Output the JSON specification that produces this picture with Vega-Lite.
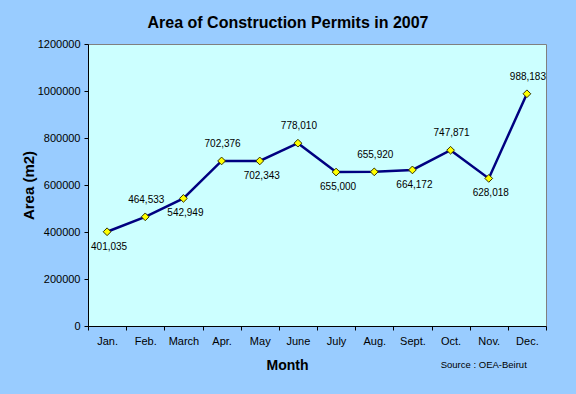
{
  "$schema": "https://vega.github.io/schema/vega-lite/v6.json",
  "width": 458,
  "height": 282,
  "autosize": {"type": "none"},
  "padding": {"left": 88, "top": 44, "right": 30, "bottom": 68},
  "background": "#99CCFF",
  "title": {
    "text": "Area of Construction Permits in 2007",
    "font": "Liberation Sans",
    "fontSize": 16,
    "fontWeight": "bold",
    "color": "#000000",
    "anchor": "middle",
    "dx": -29,
    "offset": 7
  },
  "config": {
    "view": {"fill": "#CCFFFF", "stroke": "#808080", "strokeWidth": 1},
    "font": "Liberation Sans"
  },
  "data": {
    "values": [
      {"month": "Jan.", "area": 401035},
      {"month": "Feb.", "area": 464533},
      {"month": "March", "area": 542949},
      {"month": "Apr.", "area": 702376},
      {"month": "May", "area": 702343},
      {"month": "June", "area": 778010},
      {"month": "July", "area": 655000},
      {"month": "Aug.", "area": 655920},
      {"month": "Sept.", "area": 664172},
      {"month": "Oct.", "area": 747871},
      {"month": "Nov.", "area": 628018},
      {"month": "Dec.", "area": 988183}
    ]
  },
  "encoding": {
    "x": {
      "field": "month",
      "type": "ordinal",
      "sort": null,
      "scale": {"type": "band", "paddingInner": 0, "paddingOuter": 0},
      "axis": {
        "title": "Month",
        "titleFont": "Liberation Sans",
        "titleFontSize": 14,
        "titleFontWeight": "bold",
        "titleColor": "#000000",
        "titleX": 199,
        "titleY": 39,
        "titleBaseline": "middle",
        "labelAngle": 0,
        "labelFontSize": 11,
        "labelColor": "#000000",
        "labelPadding": 5,
        "tickBand": "extent",
        "tickSize": 4,
        "tickColor": "#000000",
        "domainColor": "#000000",
        "grid": false
      }
    },
    "y": {
      "field": "area",
      "type": "quantitative",
      "scale": {"domain": [0, 1200000], "nice": false},
      "axis": {
        "title": "Area (m2)",
        "titleFont": "Liberation Sans",
        "titleFontSize": 15,
        "titleFontWeight": "bold",
        "titleColor": "#000000",
        "titleX": -60,
        "titleY": 141,
        "titleAngle": -90,
        "titleBaseline": "middle",
        "values": [0, 200000, 400000, 600000, 800000, 1000000, 1200000],
        "format": "d",
        "labelFontSize": 11,
        "labelColor": "#000000",
        "labelPadding": 4,
        "tickSize": 4,
        "tickColor": "#000000",
        "domainColor": "#000000",
        "grid": false
      }
    }
  },
  "layer": [
    {
      "mark": {"type": "line", "color": "#000080", "strokeWidth": 2.5}
    },
    {
      "mark": {"type": "point", "shape": "diamond", "filled": true, "fill": "#FFFF00", "stroke": "#333300", "strokeWidth": 1, "size": 60, "opacity": 1}
    },
    {
      "transform": [{"filter": {"field": "month", "oneOf": ["Feb.", "Apr.", "June", "Aug.", "Oct.", "Dec."]}}],
      "mark": {"type": "text", "fontSize": 10, "color": "#000000", "dy": -17, "dx": 1},
      "encoding": {"text": {"field": "area", "type": "quantitative", "format": ","}}
    },
    {
      "transform": [{"filter": {"field": "month", "oneOf": ["Jan.", "March", "May", "July", "Sept.", "Nov."]}}],
      "mark": {"type": "text", "fontSize": 10, "color": "#000000", "dy": 15, "dx": 2},
      "encoding": {"text": {"field": "area", "type": "quantitative", "format": ","}}
    },
    {
      "transform": [{"filter": {"field": "month", "equal": "Nov."}}],
      "mark": {"type": "text", "fontSize": 9.5, "fontWeight": "normal", "color": "#000000", "text": "Source : OEA-Beirut", "dx": -5, "baseline": "middle"},
      "encoding": {"x": {"datum": "Nov."}, "y": {"datum": -166000}}
    }
  ]
}
